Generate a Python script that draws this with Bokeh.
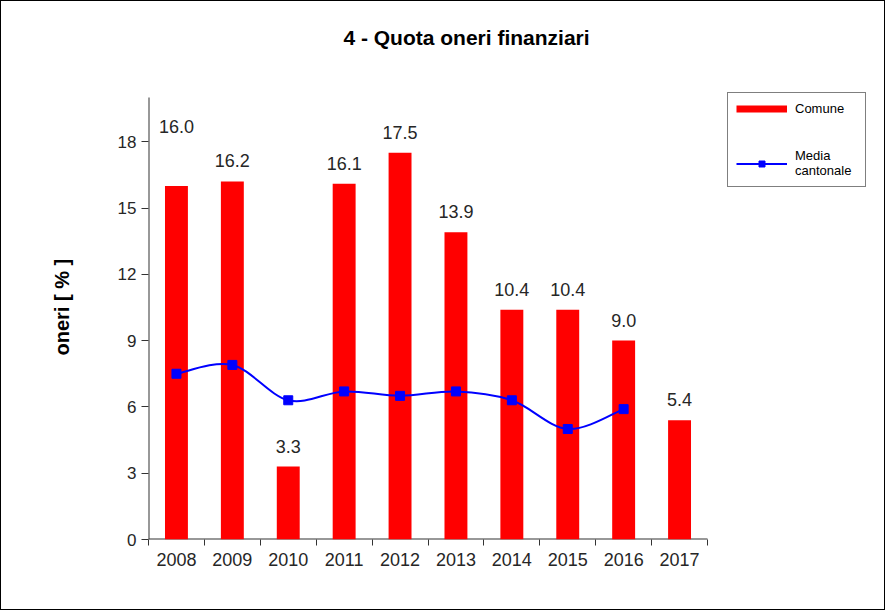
from bokeh.plotting import figure
from bokeh.models import (FixedTicker, Legend, LegendItem, ColumnDataSource, Title,
                          Range1d, Label)
from bokeh.core.properties import value
from bokeh.embed import file_html
from bokeh.resources import INLINE

years = ["2008", "2009", "2010", "2011", "2012", "2013", "2014", "2015", "2016", "2017"]
comune = [16.0, 16.2, 3.3, 16.1, 17.5, 13.9, 10.4, 10.4, 9.0, 5.4]
media_years = ["2008", "2009", "2010", "2011", "2012", "2013", "2014", "2015", "2016"]
media = [7.5, 7.9, 6.3, 6.7, 6.5, 6.7, 6.3, 5.0, 5.9]
y_ticks = [0, 3, 6, 9, 12, 15, 18]
Y_MAX = 20
# extra lift (pixels) of each data label above its bar
label_lift_px = [39, 0, 0, 0, 0, 0, 0, 0, 0, 0]

FONT = "Liberation Sans"
TXT = "#262626"
AX = "#333333"

# layout (pixels)
W, H = 885, 610
ML, MR, MT, MB = 147, 8, 2, 72
AXIS_W = 559          # width of the category axis
AXIS_H = 442          # height of the value axis (0..Y_MAX)
frame_w = W - ML - MR
frame_h = H - MT - MB
x_end = len(years) * frame_w / AXIS_W
y_end = Y_MAX * frame_h / AXIS_H

xc = [i + 0.5 for i in range(len(years))]
xm = [years.index(y) + 0.5 for y in media_years]

p = figure(width=W, height=H, output_backend="svg", toolbar_location=None,
           x_range=Range1d(0, x_end), y_range=Range1d(0, y_end),
           min_border_left=ML, min_border_right=MR, min_border_top=MT,
           min_border_bottom=MB)
p.outline_line_color = None
p.grid.visible = False
p.styles = {"border": "1px solid #000"}

# axis lines limited to the chart's own extent
p.segment(x0=[0, 0], y0=[0, 0], x1=[len(years), 0], y1=[0, Y_MAX],
          line_color=AX, line_width=2)

# bars
src = ColumnDataSource(dict(x=xc, top=comune, lab=[f"{v:.1f}" for v in comune],
                            off=[-14 - l for l in label_lift_px]))
p.vbar(x="x", top="top", width=0.41, bottom=0, source=src, fill_color="#FF0000",
       line_color=None)
p.text(x="x", y="top", text="lab", y_offset="off", source=src, text_align="center",
       text_baseline="bottom", text_font=value(FONT), text_font_size="18px",
       text_color=TXT)

# smoothed line via Catmull-Rom bezier segments
n = len(xm)
def pt(i):
    i = max(0, min(n - 1, i))
    return xm[i], media[i]
x0, y0, x1, y1, cx0, cy0, cx1, cy1 = [], [], [], [], [], [], [], []
for i in range(n - 1):
    pa, pb, pc, pd = pt(i - 1), pt(i), pt(i + 1), pt(i + 2)
    x0.append(pb[0]); y0.append(pb[1]); x1.append(pc[0]); y1.append(pc[1])
    cx0.append(pb[0] + (pc[0] - pa[0]) / 6); cy0.append(pb[1] + (pc[1] - pa[1]) / 6)
    cx1.append(pc[0] - (pd[0] - pb[0]) / 6); cy1.append(pc[1] - (pd[1] - pb[1]) / 6)
bz = p.bezier(x0=x0, y0=y0, x1=x1, y1=y1, cx0=cx0, cy0=cy0, cx1=cx1, cy1=cy1,
              line_color="#0000FF", line_width=2)
sc = p.scatter(x=xm, y=media, marker="square", size=9, fill_color="#0000FF",
               line_color="#0000FF")

# legend swatch for bars (hidden line renderer, only used by the legend)
sw = p.line(x=xc, y=comune, line_color="#FF0000", line_width=7, visible=False)

leg = Legend(items=[LegendItem(label="Comune", renderers=[sw]),
                    LegendItem(label="Media\ncantonale", renderers=[bz, sc])],
             location=(579, 352), border_line_color="#000", border_line_width=1,
             label_text_font=FONT, label_text_font_size="13px", label_text_color="#000",
             glyph_width=51, glyph_height=15, label_height=15, label_width=62,
             spacing=32, padding=8, margin=0, inactive_fill_alpha=0,
             label_standoff=8, background_fill_alpha=1)
p.add_layout(leg, "center")

# chart title
p.add_layout(Label(x=318, y=502, x_units="screen", y_units="screen",
                   text="4 - Quota oneri finanziari", text_align="center",
                   text_baseline="middle", text_font=FONT, text_font_size="21px",
                   text_font_style="bold", text_color="#000"))

# value-axis title (placed on the left side, beyond the tick labels)
p.add_layout(Title(text="oneri [ % ]", align="left", offset=184, standoff=84,
                   text_font=FONT, text_font_size="20px", text_font_style="bold",
                   text_color="#000"), "left")

# axes
xa = p.xaxis[0]
xa.ticker = FixedTicker(ticks=xc, minor_ticks=list(range(len(years) + 1)))
xa.major_label_overrides = {x: y for x, y in zip(xc, years)}
xa.major_tick_out = 0
xa.major_tick_in = 0
xa.minor_tick_out = 6
xa.minor_tick_in = 0
xa.minor_tick_line_color = AX
xa.axis_line_color = None
xa.major_label_text_font = FONT
xa.major_label_text_font_size = "18px"
xa.major_label_text_color = TXT
xa.major_label_standoff = 7

ya = p.yaxis[0]
ya.ticker = FixedTicker(ticks=y_ticks, minor_ticks=[])
ya.major_tick_out = 7
ya.major_tick_in = 0
ya.major_tick_line_color = AX
ya.axis_line_color = None
ya.major_label_text_font = FONT
ya.major_label_text_font_size = "17px"
ya.major_label_text_color = TXT
ya.major_label_standoff = 5

open("out.html", "w").write(file_html(p, INLINE))
